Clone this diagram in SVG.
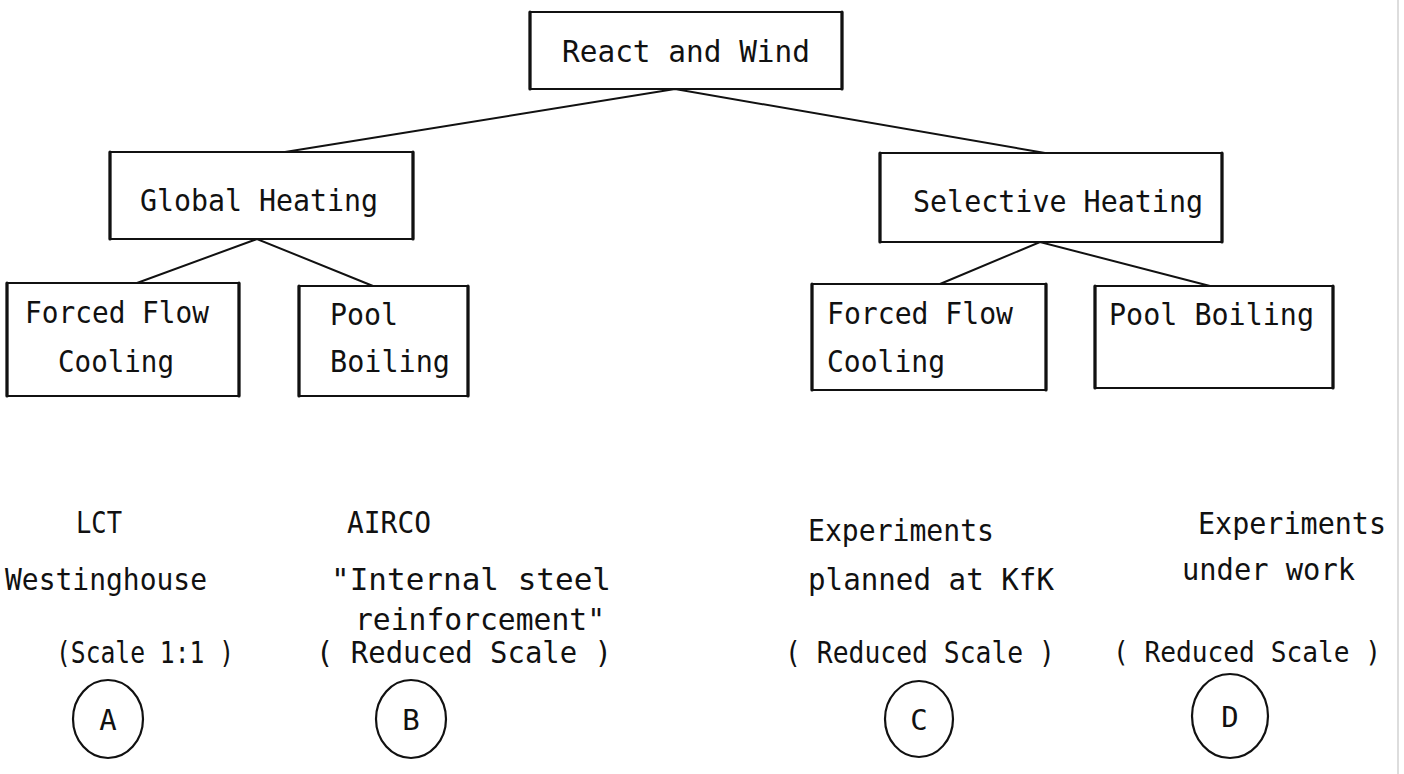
<svg xmlns="http://www.w3.org/2000/svg" width="1404" height="774" viewBox="0 0 1404 774">
<style>
.box{fill:none;stroke:#111;stroke-width:2.2;stroke-linejoin:round}
.side{stroke:#111;stroke-width:3.2;stroke-linecap:round}
.con{fill:none;stroke:#111;stroke-width:2;stroke-linecap:round}
.t{font-family:"DejaVu Sans Mono","Liberation Mono",monospace;font-size:30px;fill:#111}
.c{fill:none;stroke:#111;stroke-width:2.2}
.ct{font-family:"DejaVu Sans Mono","Liberation Mono",monospace;font-size:29px;fill:#111;text-anchor:middle}
</style>
<rect width="1404" height="774" fill="#fff"/>
<line x1="1398" y1="0" x2="1398" y2="774" stroke="#bbb" stroke-width="1"/>

<g id="connectors">
<polyline class="con" points="285,152 675,89 1045,153"/>
<polyline class="con" points="137,283 257,239 373,286"/>
<polyline class="con" points="940,284 1040,242 1210,286"/>
</g>

<g id="react-and-wind">
<rect class="box" x="530" y="12" width="312" height="77"/>
<line class="side" x1="530" y1="12" x2="530" y2="89"/>
<line class="side" x1="842" y1="12" x2="842" y2="89"/>
<text class="t" x="562" y="62" textLength="248" lengthAdjust="spacingAndGlyphs">React and Wind</text>
</g>

<g id="global-heating">
<rect class="box" x="110" y="152" width="303" height="87"/>
<line class="side" x1="110" y1="152" x2="110" y2="239"/>
<line class="side" x1="413" y1="152" x2="413" y2="239"/>
<text class="t" x="140" y="211" textLength="238" lengthAdjust="spacingAndGlyphs">Global Heating</text>
</g>

<g id="selective-heating">
<rect class="box" x="880" y="153" width="342" height="89"/>
<line class="side" x1="880" y1="153" x2="880" y2="242"/>
<line class="side" x1="1222" y1="153" x2="1222" y2="242"/>
<text class="t" x="913" y="212" textLength="290" lengthAdjust="spacingAndGlyphs">Selective Heating</text>
</g>

<g id="forced-flow-global">
<rect class="box" x="7" y="283" width="232" height="113"/>
<line class="side" x1="7" y1="283" x2="7" y2="396"/>
<line class="side" x1="239" y1="283" x2="239" y2="396"/>
<text class="t" x="25" y="323" textLength="184" lengthAdjust="spacingAndGlyphs">Forced Flow</text>
<text class="t" x="58" y="372" textLength="116" lengthAdjust="spacingAndGlyphs">Cooling</text>
</g>

<g id="pool-boiling-global">
<rect class="box" x="299" y="286" width="169" height="110"/>
<line class="side" x1="299" y1="286" x2="299" y2="396"/>
<line class="side" x1="468" y1="286" x2="468" y2="396"/>
<text class="t" x="330" y="325" textLength="68" lengthAdjust="spacingAndGlyphs">Pool</text>
<text class="t" x="330" y="372" textLength="120" lengthAdjust="spacingAndGlyphs">Boiling</text>
</g>

<g id="forced-flow-selective">
<rect class="box" x="812" y="284" width="234" height="106"/>
<line class="side" x1="812" y1="284" x2="812" y2="390"/>
<line class="side" x1="1046" y1="284" x2="1046" y2="390"/>
<text class="t" x="827" y="324" textLength="186" lengthAdjust="spacingAndGlyphs">Forced Flow</text>
<text class="t" x="827" y="372" textLength="118" lengthAdjust="spacingAndGlyphs">Cooling</text>
</g>

<g id="pool-boiling-selective">
<rect class="box" x="1095" y="286" width="238" height="102"/>
<line class="side" x1="1095" y1="286" x2="1095" y2="388"/>
<line class="side" x1="1333" y1="286" x2="1333" y2="388"/>
<text class="t" x="1109" y="325" textLength="205" lengthAdjust="spacingAndGlyphs">Pool Boiling</text>
</g>

<g id="label-a">
<text class="t" x="76" y="533" textLength="46" lengthAdjust="spacingAndGlyphs">LCT</text>
<text class="t" x="5" y="590" textLength="202" lengthAdjust="spacingAndGlyphs">Westinghouse</text>
<text class="t" x="56" y="663" textLength="178" lengthAdjust="spacingAndGlyphs">(Scale 1:1 )</text>
<ellipse class="c" cx="108" cy="719" rx="35" ry="39"/>
<text class="ct" x="108" y="730">A</text>
</g>

<g id="label-b">
<text class="t" x="347" y="533" textLength="84" lengthAdjust="spacingAndGlyphs">AIRCO</text>
<text class="t" x="331" y="590" textLength="280" lengthAdjust="spacingAndGlyphs">"Internal  steel</text>
<text class="t" x="355" y="630" textLength="250" lengthAdjust="spacingAndGlyphs">reinforcement"</text>
<text class="t" x="316" y="663" textLength="296" lengthAdjust="spacingAndGlyphs">( Reduced Scale  )</text>
<ellipse class="c" cx="411" cy="719" rx="35" ry="39"/>
<text class="ct" x="411" y="730">B</text>
</g>

<g id="label-c">
<text class="t" x="808" y="541" textLength="186" lengthAdjust="spacingAndGlyphs">Experiments</text>
<text class="t" x="808" y="590" textLength="246" lengthAdjust="spacingAndGlyphs">planned at KfK</text>
<text class="t" x="785" y="663" textLength="270" lengthAdjust="spacingAndGlyphs">( Reduced Scale )</text>
<ellipse class="c" cx="919" cy="719" rx="34" ry="38"/>
<text class="ct" x="919" y="730">C</text>
</g>

<g id="label-d">
<text class="t" x="1198" y="534" textLength="188" lengthAdjust="spacingAndGlyphs">Experiments</text>
<text class="t" x="1182" y="580" textLength="173" lengthAdjust="spacingAndGlyphs">under work</text>
<text class="t" x="1113" y="662" style="font-size:28px" textLength="268" lengthAdjust="spacingAndGlyphs">( Reduced Scale )</text>
<ellipse class="c" cx="1230" cy="716" rx="38" ry="42"/>
<text class="ct" x="1230" y="727">D</text>
</g>
</svg>
